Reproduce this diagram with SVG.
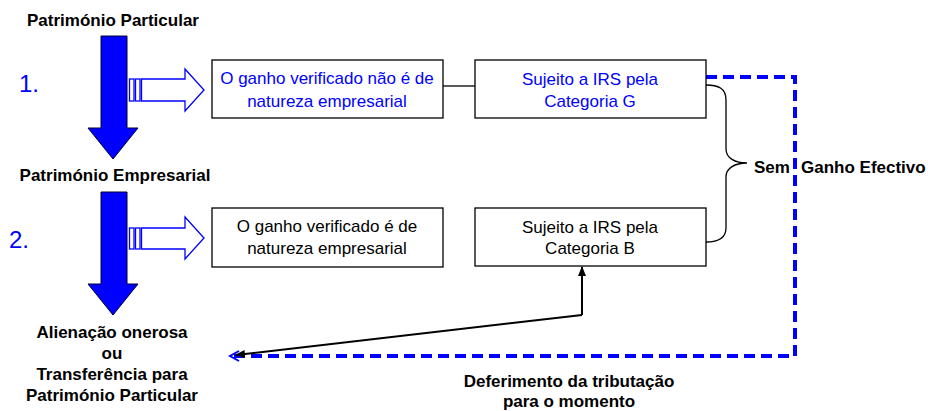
<svg xmlns="http://www.w3.org/2000/svg" width="928" height="411" viewBox="0 0 928 411">
<style>
text{font-family:"Liberation Sans",Arial,sans-serif;font-size:17px;}
.b{font-weight:bold;fill:#000;}
.c{text-anchor:middle;}
.blue{fill:#0000ff;}
.blk{fill:#000;}
.box{fill:#fff;stroke:#000;stroke-width:1.3;}
.big{fill:#0000ff;stroke:#000033;stroke-width:1;}
.hol{fill:#fff;stroke:#0000ff;stroke-width:1.3;}
.num{font-size:24px;fill:#0000ff;}
</style>
<defs>
<marker id="ah" markerWidth="10" markerHeight="10" refX="9" refY="5" orient="auto" markerUnits="userSpaceOnUse">
<path d="M0,1 L10,5 L0,9 Z" fill="#000"/>
</marker>
<marker id="bh" markerWidth="12" markerHeight="12" refX="10" refY="6" orient="auto" markerUnits="userSpaceOnUse">
<path d="M1,1 L10,6 L1,11" fill="none" stroke="#0000ff" stroke-width="2"/>
</marker>
</defs>

<g id="label-top">
<text class="b c" x="113" y="26">Património Particular</text>
</g>
<g id="label-mid">
<text class="b c" x="115" y="181">Património Empresarial</text>
</g>
<g id="label-bottom">
<text class="b c" x="112" y="338">Alienação onerosa</text>
<text class="b c" x="112" y="359">ou</text>
<text class="b c" x="112" y="380">Transferência para</text>
<text class="b c" x="112" y="401">Património Particular</text>
</g>
<g id="num1"><text class="num" x="19" y="92">1.</text></g>
<g id="num2"><text class="num" x="9" y="248">2.</text></g>

<g id="bigarrow1">
<polygon class="big" points="101,36 127,36 127,128 138,128 113,159 88,128 101,128"/>
</g>
<g id="bigarrow2">
<polygon class="big" points="101,192 127,192 127,284 138,284 113,315 88,284 101,284"/>
</g>

<g id="hollow1">
<rect class="hol" x="129.5" y="79" width="4.5" height="22"/>
<rect class="hol" x="135.5" y="79" width="4.5" height="22"/>
<polygon class="hol" points="141.5,79 185,79 185,69 204,90 185,111 185,101 141.5,101"/>
</g>
<g id="hollow2">
<rect class="hol" x="129.5" y="228" width="4.5" height="21"/>
<rect class="hol" x="135.5" y="228" width="4.5" height="21"/>
<polygon class="hol" points="141.5,228 185,228 185,217 204,238 185,259 185,249 141.5,249"/>
</g>

<g id="connectors">
<line x1="443" y1="86" x2="475" y2="86" stroke="#000" stroke-width="1.3"/>
<path d="M706,85 C718,85 726,88 726,100 L726,149 C726,158 735,163 747,163 C735,163 726,168 726,177 L726,228 C726,238 718,242 706,242" fill="none" stroke="#000" stroke-width="1.3"/>
<path d="M706,77 L795,77 L795,356 L230,356" fill="none" stroke="#0000ff" stroke-width="4" stroke-dasharray="11 6" marker-end="url(#bh)"/>
<polyline points="582,315 582,267" fill="none" stroke="#000" stroke-width="2" marker-end="url(#ah)"/>
<polyline points="582,315 236,355" fill="none" stroke="#000" stroke-width="2" marker-end="url(#ah)"/>
</g>

<g id="box1">
<rect class="box" x="212" y="60" width="231" height="58"/>
<text class="c blue" x="327" y="84">O ganho verificado não é de</text>
<text class="c blue" x="327" y="107">natureza empresarial</text>
</g>
<g id="box2">
<rect class="box" x="212" y="208" width="231" height="59"/>
<text class="c blk" x="327" y="232">O ganho verificado é de</text>
<text class="c blk" x="327" y="254">natureza empresarial</text>
</g>
<g id="box3">
<rect class="box" x="475" y="60" width="231" height="58"/>
<text class="c blue" x="590" y="85">Sujeito a IRS pela</text>
<text class="c blue" x="590" y="107">Categoria G</text>
</g>
<g id="box4">
<rect class="box" x="475" y="208" width="231" height="58"/>
<text class="c blk" x="590" y="233">Sujeito a IRS pela</text>
<text class="c blk" x="590" y="254">Categoria B</text>
</g>

<g id="label-sem">
<text class="b" x="754" y="173">Sem <tspan x="801">Ganho Efectivo</tspan></text>
</g>
<g id="label-deferimento">
<text class="b c" x="569" y="387">Deferimento da tributação</text>
<text class="b c" x="569" y="407">para o momento</text>
</g>
</svg>
